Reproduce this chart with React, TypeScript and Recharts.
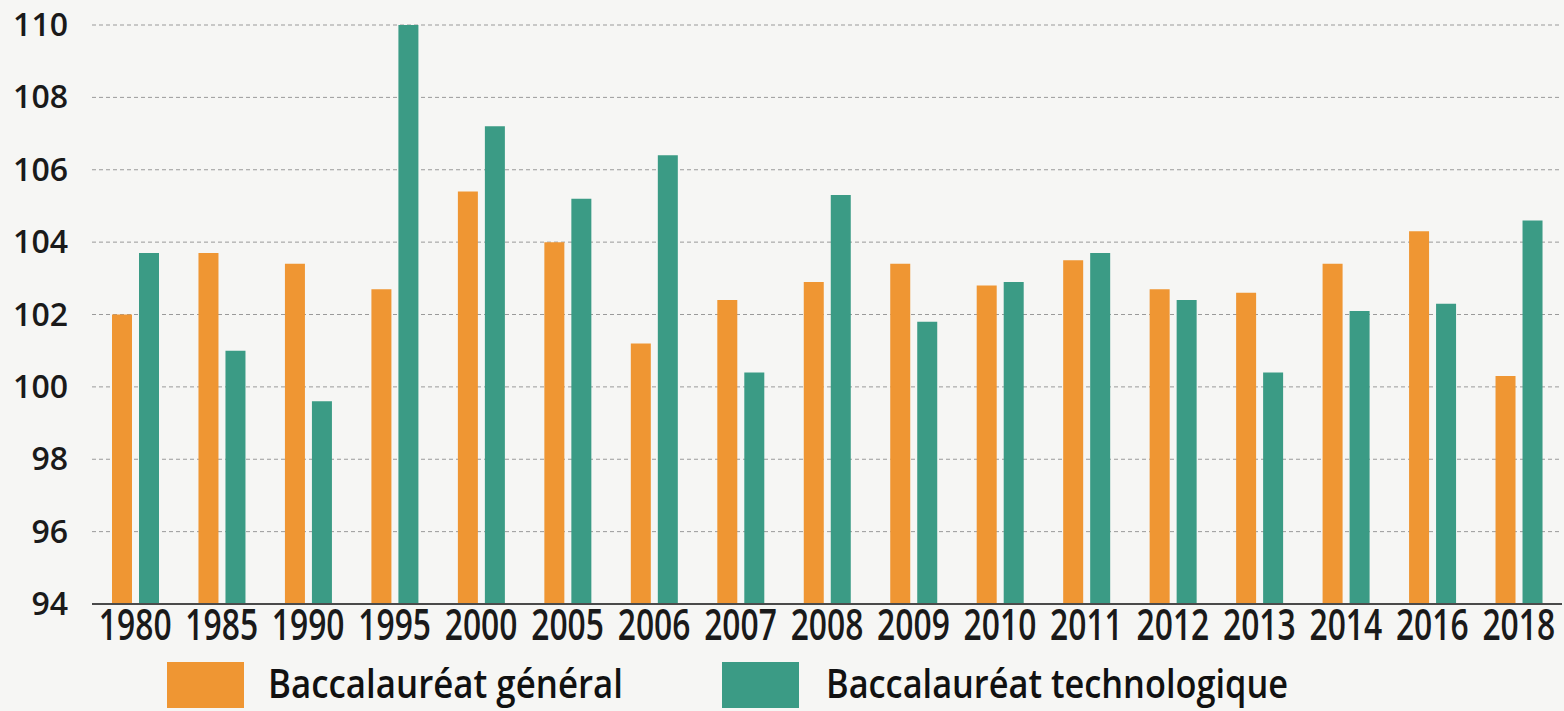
import React from "react";
import { BarChart, Bar, XAxis, YAxis, CartesianGrid, Legend } from "recharts";

const years = ["1980", "1985", "1990", "1995", "2000", "2005", "2006", "2007", "2008", "2009", "2010", "2011", "2012", "2013", "2014", "2016", "2018"];
const general = [102.0, 103.7, 103.4, 102.7, 105.4, 104.0, 101.2, 102.4, 102.9, 103.4, 102.8, 103.5, 102.7, 102.6, 103.4, 104.3, 100.3];
const techno = [103.7, 101.0, 99.6, 110.0, 107.2, 105.2, 106.4, 100.4, 105.3, 101.8, 102.9, 103.7, 102.4, 100.4, 102.1, 102.3, 104.6];
const yTicks = [94, 96, 98, 100, 102, 104, 106, 108, 110];
const seriesNames = ["Baccalauréat général", "Baccalauréat technologique"];
const seriesColors = ["#EF9633", "#3B9B85"];

const data = years.map((year, i) => ({ year, general: general[i], techno: techno[i] }));

const FONT = "'Open Sans', 'Noto Sans', sans-serif";

const XTick = (props: any) => {
  const { x, y, payload } = props;
  return (
    <g transform={`translate(${x},${y + 36}) scale(0.74,1)`}>
      <text x={0} y={0} textAnchor="middle" fontFamily={FONT} fontSize={43} fontWeight={600} fill="#1a1a1a">
        {payload.value}
      </text>
    </g>
  );
};

const YTick = (props: any) => {
  const { y, payload } = props;
  return (
    <text x={68} y={y + 11} textAnchor="end" fontFamily={FONT} fontSize={32} fontWeight={600} fill="#1a1a1a">
      {payload.value}
    </text>
  );
};

const legendLayout = [
  { rectX: 167, textX: 268, len: 355 },
  { rectX: 722, textX: 826, len: 462 },
];

const LegendContent = (props: any) => {
  const payload = props.payload || [];
  return (
    <svg width={1564} height={61} style={{ display: "block" }}>
      {payload.map((p: any, i: number) => {
        const l = legendLayout[i] || legendLayout[0];
        return (
          <g key={i}>
            <rect x={l.rectX} y={12} width={77} height={46} fill={p.color} />
            <text
              x={l.textX}
              y={48}
              fontFamily={FONT}
              fontSize={39}
              fontWeight={600}
              fill="#111"
              textLength={l.len}
              lengthAdjust="spacingAndGlyphs"
            >
              {p.value}
            </text>
          </g>
        );
      })}
    </svg>
  );
};

export default function App() {
  return (
    <div style={{ position: "absolute", left: 0, top: 0, width: 1564, height: 711, background: "#f6f6f4" }}>
      <BarChart
        width={1564}
        height={711}
        data={data}
        margin={{ top: 25, right: 2, left: 0, bottom: 0 }}
        barSize={20}
        barGap={7}
      >
        <CartesianGrid vertical={false} stroke="#9a9a9a" strokeDasharray="4 3" strokeWidth={1} />
        <XAxis
          dataKey="year"
          interval={0}
          tickLine={false}
          tickSize={0}
          tickMargin={0}
          height={46}
          axisLine={{ stroke: "#4a4a4a", strokeWidth: 2 }}
          tick={<XTick />}
        />
        <YAxis
          width={92}
          domain={[94, 110]}
          ticks={yTicks}
          interval={0}
          allowDataOverflow
          axisLine={false}
          tickLine={false}
          tick={<YTick />}
        />
        <Legend verticalAlign="bottom" height={61} wrapperStyle={{ left: 0, width: 1564 }} content={<LegendContent />} />
        <Bar dataKey="general" name={seriesNames[0]} fill={seriesColors[0]} isAnimationActive={false} />
        <Bar dataKey="techno" name={seriesNames[1]} fill={seriesColors[1]} isAnimationActive={false} />
      </BarChart>
    </div>
  );
}
